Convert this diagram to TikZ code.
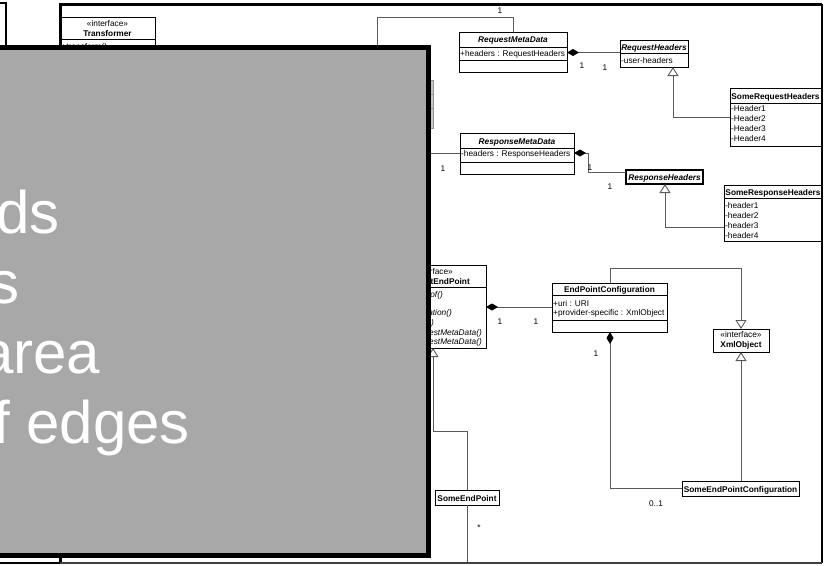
\documentclass[tikz,border=0pt]{standalone}
\usepackage{fontspec}
\setmainfont{Liberation Sans}
\usetikzlibrary{arrows.meta,fit}
\definecolor{panelgray}{RGB}{168,168,168}
\definecolor{linkgray}{RGB}{90,90,90}
\definecolor{stubgray}{RGB}{150,150,150}
\begin{document}
\begin{tikzpicture}[x=1pt,y=-1pt,
  box/.style={draw=black,line width=0.9pt,fill=white,inner sep=0pt,outer sep=0pt},
  divider/.style={draw=black,line width=0.8pt},
  txt/.style={font=\fontsize{8.3}{10}\selectfont,inner sep=0pt,anchor=base},
  txtl/.style={txt,anchor=base west},
  txtr/.style={txt,anchor=base east},
  mtxt/.style={txt,font=\fontsize{8.3}{10}\selectfont\itshape},
  ctitle/.style={txt,font=\fontsize{8.3}{10}\selectfont\bfseries},
  atitle/.style={txt,font=\fontsize{8.3}{10}\selectfont\bfseries\itshape},
  link/.style={draw=linkgray,line width=0.9pt},
  comp/.style={link,{Diamond[length=12pt,width=7pt,color=black]}-},
  gen/.style={link,-{Triangle[length=9pt,width=11pt,fill=white]}},
  panel/.style={fill=panelgray,draw=black,line width=5pt},
  paneltext/.style={text=white,font=\fontsize{60}{70}\selectfont,inner sep=0pt,anchor=base west},
]
\useasboundingbox (0,0) rectangle (824,565);
\fill[white] (0,0) rectangle (824,565);

% ---------- class boxes ----------
% Transformer interface
\node[box,fit={(60,17) (155,80)}] (tr) {};
\draw[divider] (tr.west |- 0,39) -- (tr.east |- 0,39);
\node[txt] (trS) at (107.5,26) {«interface»};
\node[ctitle] (trN) at (107.5,36.5) {Transformer};
\node[mtxt,anchor=base west] (trM) at (61,49) {+transform()};

% RequestMetaData
\node[box,fit={(459,32) (567,72)}] (rmd) {};
\draw[divider] (459,47) -- (567,47);
\draw[divider] (459,60) -- (567,60);
\node[atitle] (rmdN) at (513,42) {RequestMetaData};
\node[txtl] (rmdA) at (460,56) {+headers : RequestHeaders};

% RequestHeaders
\node[box,fit={(620,40) (688,67)}] (rh) {};
\draw[divider] (620,53) -- (688,53);
\node[atitle] (rhN) at (654,50) {RequestHeaders};
\node[txtl] (rhA) at (621,63) {-user-headers};

% SomeRequestHeaders
\node[box,fit={(730,88) (821,146)}] (srh) {};
\draw[divider] (730,103) -- (821,103);
\node[ctitle] (srhN) at (775.5,99.5) {SomeRequestHeaders};
\node[txtl] (srh1) at (731,111) {-Header1};
\node[txtl] (srh2) at (731,121) {-Header2};
\node[txtl] (srh3) at (731,131) {-Header3};
\node[txtl] (srh4) at (731,141) {-Header4};

% box mostly covered by the panel
\node[box,draw=stubgray,fill=stubgray!55,fit={(395,80) (433,128)}] (stub) {};
\draw[divider,draw=stubgray] (395,94) -- (433,94);
\draw[divider,draw=stubgray] (395,108) -- (433,108);

% ResponseMetaData
\node[box,fit={(460,133) (574,174)}] (rsmd) {};
\draw[divider] (460,148) -- (574,148);
\draw[divider] (460,162) -- (574,162);
\node[atitle] (rsmdN) at (517,144) {ResponseMetaData};
\node[txtl] (rsmdA) at (461,156) {-headers : ResponseHeaders};

% ResponseHeaders
\node[box,line width=1.1pt,fit={(626,170) (703,184)}] (rsh) {};
\node[atitle] (rshN) at (664.5,180.5) {ResponseHeaders};

% SomeResponseHeaders
\node[box,fit={(724,185) (822,241)}] (srsh) {};
\draw[divider] (724,198) -- (822,198);
\node[ctitle] (srshN) at (773,195.5) {SomeResponseHeaders};
\node[txtl] (srsh1) at (725,208) {-header1};
\node[txtl] (srsh2) at (725,218) {-header2};
\node[txtl] (srsh3) at (725,228) {-header3};
\node[txtl] (srsh4) at (725,238) {-header4};

% EndPoint interface
\node[box,fit={(380,265) (486,348)}] (iep) {};
\draw[divider] (380,287) -- (486,287);
\node[txtr] (iepS) at (453,274.5) {rface»};
\node[ctitle,anchor=base east] (iepN) at (470,284.5) {tEndPoint};
\node[mtxt,anchor=base east] (iep1) at (443,297) {sof()};
\node[mtxt,anchor=base east] (iep2) at (452,315.5) {ation()};
\node[mtxt,anchor=base east] (iep3) at (434,325) {)};
\node[mtxt,anchor=base east] (iep4) at (482,335) {estMetaData()};
\node[mtxt,anchor=base east] (iep5) at (482,344.5) {estMetaData()};

% EndPointConfiguration
\node[box,fit={(552,283) (667,332)}] (epc) {};
\draw[divider] (552,295) -- (667,295);
\draw[divider] (552,320) -- (667,320);
\node[ctitle] (epcN) at (609.5,292.5) {EndPointConfiguration};
\node[txtl] (epc1) at (553,306) {+uri : URI};
\node[txtl] (epc2) at (553,315) {+provider-specific : XmlObject};

% XmlObject interface
\node[box,fit={(713,329) (769,352)}] (xml) {};
\node[txt] (xmlS) at (741,337.5) {«interface»};
\node[ctitle] (xmlN) at (741,347.5) {XmlObject};

% SomeEndPoint
\node[box,fit={(435,490) (499,505)}] (sep) {};
\node[ctitle] (sepN) at (467,501) {SomeEndPoint};

% SomeEndPointConfiguration
\node[box,fit={(682,481) (799,496)}] (sepc) {};
\node[ctitle] (sepcN) at (740.5,492) {SomeEndPointConfiguration};

% ---------- connectors ----------
\coordinate (tA) at (377,60);
\coordinate (tB) at (377,17);
\coordinate (tC) at (513,17);
\draw[link] (tA) -- (tB) -- (tC) -- (rmd.north -| tC);
\node[txt] (m0) at (500,13) {1};

\coordinate (c1) at (580,52.5);
\draw[comp] (rmd.east |- c1) -- (rh.west |- c1);
\node[txt] (m1) at (582,68) {1};
\node[txt] (m2) at (605,70) {1};

\coordinate (g1) at (673,117);
\draw[gen] (srh.west |- g1) -- (g1) -- (rh.south -| g1);

\coordinate (rsA) at (420,153);
\draw[link] (rsmd.west |- rsA) -- (rsA);
\node[txt] (m3) at (443,171) {1};

\coordinate (c2) at (588,153);
\coordinate (c3) at (588,172);
\draw[comp] (rsmd.east |- c2) -- (c2) -- (c3) -- (rsh.west |- c3);
\node[txt] (m4) at (590,170) {1};
\node[txt] (m5) at (610,189) {1};

\coordinate (g2) at (665,227);
\draw[gen] (srsh.west |- g2) -- (g2) -- (rsh.south -| g2);

\coordinate (c4) at (500,307);
\draw[comp] (iep.east |- c4) -- (epc.west |- c4);
\node[txt] (m6) at (500,324) {1};
\node[txt] (m7) at (536,324) {1};

\coordinate (g3) at (610,268);
\coordinate (g4) at (741,268);
\draw[gen] (epc.north -| g3) -- (g3) -- (g4) -- (xml.north -| g4);
\draw[gen] (sepc.north -| g4) -- (xml.south -| g4);

\coordinate (c5) at (610,488);
\draw[comp] (epc.south -| c5) -- (c5) -- (sepc.west |- c5);
\node[txt] (m8) at (596,356) {1};
\node[txt] (m9) at (656,506) {0..1};

\coordinate (g5) at (467,431);
\coordinate (g6) at (433,431);
\draw[gen] (sep.north) -- (g5) -- (g6) -- (iep.south -| g6);

\coordinate (sepB) at (467,563);
\draw[link] (sep.south) -- (sepB);
\node[txt] (m10) at (479,530) {*};

% ---------- frames ----------
\draw[line width=3pt] (822,4) -- (60,4) -- (60,563);
\draw[line width=2pt] (822,4) -- (822,563);
\draw[line width=1.2pt,black!75] (60,563) -- (822,563);
\draw[line width=2.5pt] (-5,3) -- (6,3) -- (6,50);
\draw[line width=1.2pt] (-5,563) -- (60,563);

% ---------- overlay panel ----------
\draw[panel] (-10,47.5) rectangle (428.5,555.5);
\node[paneltext] (p1) at (-4,233) {ds};
\node[paneltext] (p2) at (-11,303) {s};
\node[paneltext] (p3) at (-20,373) {area};
\node[paneltext] (p4) at (-7,443) {f edges};
\end{tikzpicture}
\end{document}
